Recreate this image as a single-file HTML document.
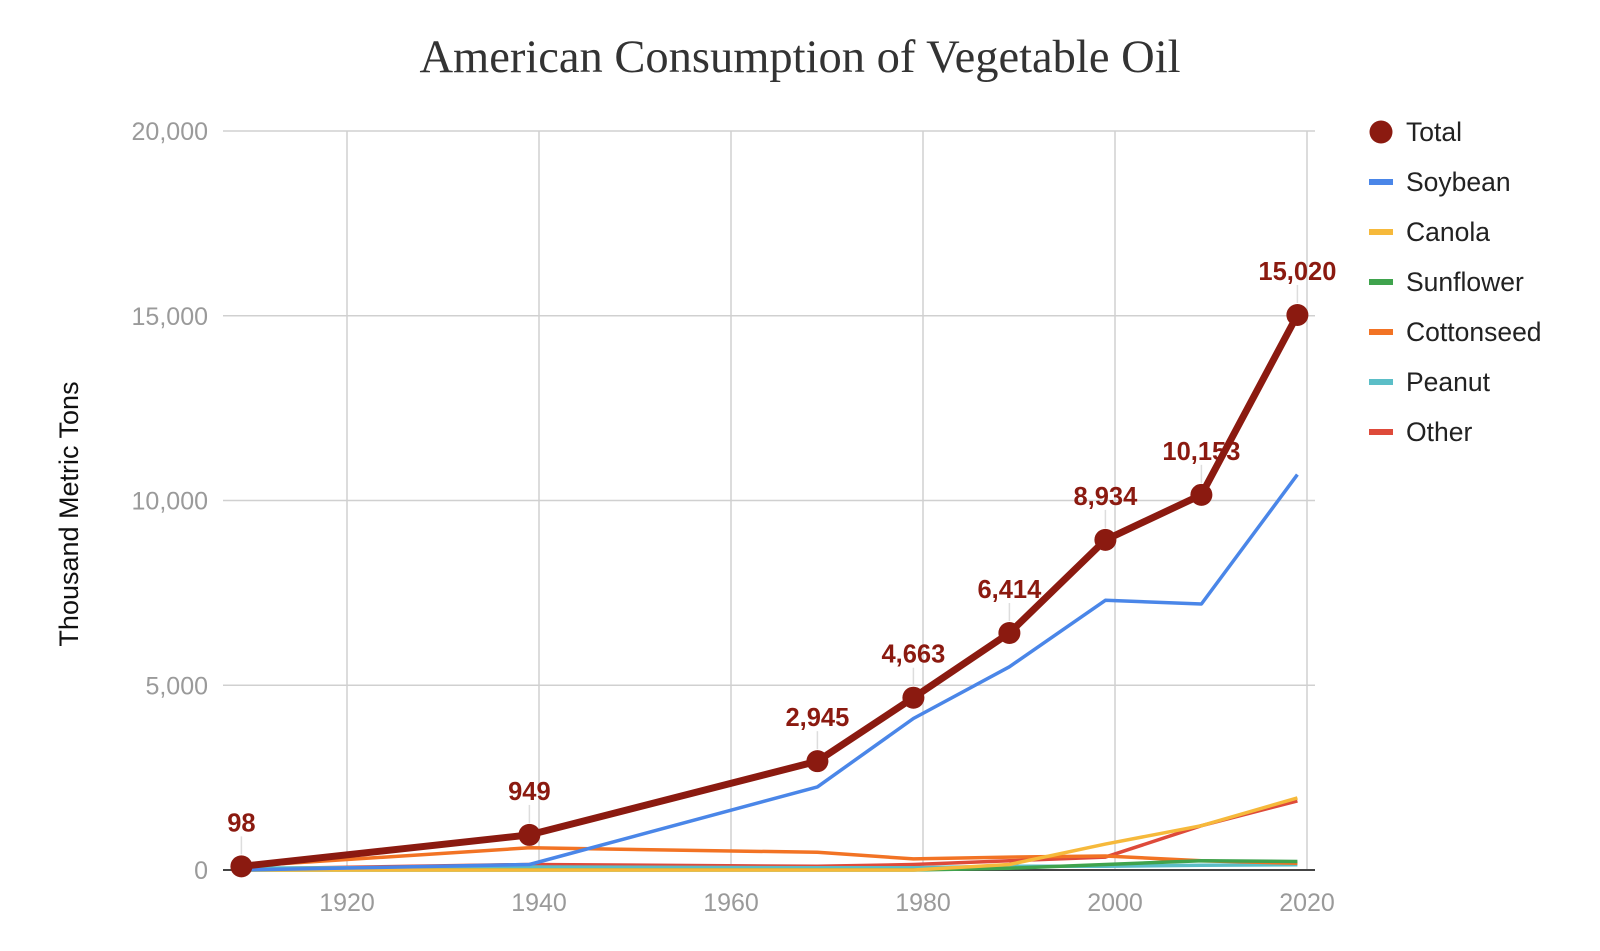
<!DOCTYPE html>
<html><head><meta charset="utf-8"><style>
html,body{margin:0;padding:0;background:#fff;}
svg{display:block;}
</style></head><body>
<svg id="chart" width="1600" height="951" xmlns="http://www.w3.org/2000/svg" font-family="Liberation Sans, sans-serif">
<text x="800" y="72" text-anchor="middle" font-family="Liberation Serif, serif" font-size="46.5" fill="#333">American Consumption of Vegetable Oil</text>
<text transform="translate(78,514) rotate(-90)" text-anchor="middle" font-size="27" fill="#111">Thousand Metric Tons</text>
<g id="grid"></g><g id="series"></g><g id="labels"></g><g id="legend"></g>
</svg>
<script>
const years=[1909,1939,1969,1979,1989,1999,2009,2019];
const total=[98,949,2945,4663,6414,8934,10153,15020];
const soybean=[0,150,2250,4100,5500,7300,7200,10700];
const canola=[0,0,0,0,150,700,1200,1950];
const sunflower=[0,0,0,0,50,150,250,230];
const cottonseed=[100,600,480,300,350,380,250,180];
const peanut=[50,80,60,60,100,100,130,140];
const other=[30,150,100,150,250,350,1200,1870];
const yTicks=[0,5000,10000,15000,20000];
const yTickLabels=["0","5,000","10,000","15,000","20,000"];
const xTicks=[1920,1940,1960,1980,2000,2020];
const seriesNames=["Total","Soybean","Canola","Sunflower","Cottonseed","Peanut","Other"];

const NS="http://www.w3.org/2000/svg";
const X=y=>347+(y-1920)*(1307-347)/100;
const Y=v=>870-v*(870-131)/20000;
function mk(p,t,a){const e=document.createElementNS(NS,t);for(const k in a)e.setAttribute(k,a[k]);p.appendChild(e);return e;}
const grid=document.getElementById('grid'),ser=document.getElementById('series'),lab=document.getElementById('labels'),leg=document.getElementById('legend');
yTicks.forEach((v,i)=>{
  const l=mk(grid,'line',{x1:223,x2:1315,y1:Y(v),y2:Y(v),stroke:'#d0d0d0','stroke-width':1.5});
  
  
  const t=mk(grid,'text',{x:208,y:Y(v)+9,'text-anchor':'end','font-size':25,fill:'#9a9a9a'});
  t.textContent=yTickLabels[i];
  
  
});
xTicks.forEach(v=>{
  const l=mk(grid,'line',{x1:X(v),x2:X(v),y1:131,y2:870,stroke:'#d0d0d0','stroke-width':1.5});
  
  
  const t=mk(grid,'text',{x:X(v),y:911,'text-anchor':'middle','font-size':25,fill:'#9a9a9a'});
  t.textContent=v;
  
  
});
const base=mk(grid,'line',{x1:223,x2:1315,y1:870,y2:870,stroke:'#444','stroke-width':2});


const colors=['#8b1a10','#4a86e8','#f6b93b','#3fa34d','#f27324','#5bbec7','#de4a3a'];
const data=[total,soybean,canola,sunflower,cottonseed,peanut,other];
function path(vals){return vals.map((v,i)=>(i?'L':'M')+X(years[i]).toFixed(1)+','+Y(v).toFixed(1)).join(' ');}
for(let s=6;s>=1;s--){
  const p=mk(ser,'path',{d:path(data[s]),fill:'none',stroke:colors[s],'stroke-width':3.5,'stroke-linejoin':'round'});
  
  
}
const tp=mk(ser,'path',{d:path(total),fill:'none',stroke:colors[0],'stroke-width':7,'stroke-linejoin':'round'});


total.forEach((v,i)=>{
  const x=X(years[i]),y=Y(v);
  const ld=mk(lab,'line',{x1:x,x2:x,y1:y-12,y2:y-30,stroke:'#ddd','stroke-width':1.5});
  
  
  const c=mk(ser,'circle',{cx:x,cy:y,r:11,fill:colors[0]});
  
  
  const t=mk(lab,'text',{x:x,y:y-35,'text-anchor':'middle','font-size':25.5,'font-weight':'bold',fill:'#8b1a10'});
  t.textContent=v.toLocaleString('en-US');
  
  
});
seriesNames.forEach((n,i)=>{
  const y=132+i*50;
  const g=mk(leg,'g',{});
  
  
  if(i===0) mk(g,'circle',{cx:1381,cy:y,r:11.5,fill:colors[0]});
  else mk(g,'rect',{x:1369,y:y-3,width:24,height:6,fill:colors[i]});
  const t=mk(g,'text',{x:1406,y:y+9,'font-size':26.5,fill:'#222'});
  t.textContent=n;
});
</script>
</body></html>
